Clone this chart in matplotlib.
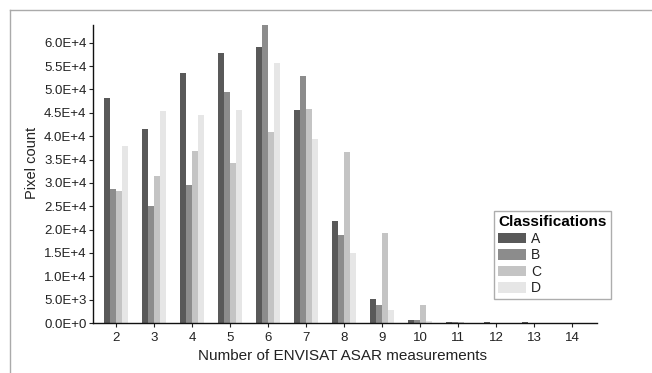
import matplotlib
matplotlib.use("Agg")
import matplotlib.pyplot as plt
from matplotlib.lines import Line2D
from matplotlib.ticker import FuncFormatter, MultipleLocator
import numpy as np

plt.rcParams['font.family'] = ['Liberation Sans', 'DejaVu Sans']

categories = [2, 3, 4, 5, 6, 7, 8, 9, 10, 11, 12, 13, 14]
series_names = ["A", "B", "C", "D"]
A = [48200, 41600, 53600, 57700, 59100, 45500, 21800, 5100, 700, 250, 250, 250, 0]
B = [28600, 25000, 29600, 49400, 63700, 52900, 18900, 3900, 600, 200, 50, 0, 0]
C = [28200, 31400, 36800, 34300, 40900, 45900, 36600, 19300, 3900, 150, 0, 0, 0]
D = [37900, 45400, 44500, 45700, 55700, 39400, 15000, 2700, 350, 100, 0, 0, 0]
colors = ["#595959", "#8c8c8c", "#c4c4c4", "#e6e6e6"]

fig = plt.figure(figsize=(6.52, 3.73), dpi=100)
ax = fig.add_axes([0.1422, 0.134, 0.7734, 0.799])

x = np.array(categories, dtype=float)
w = 0.158
for i, (vals, name, col) in enumerate(zip([A, B, C, D], series_names, colors)):
    ax.bar(x + (i - 1.5) * w, vals, width=w, color=col, label=name, linewidth=0)

ax.set_xlim(1.39, 14.66)
ax.set_ylim(0, 63800)
ax.set_xticks(categories)
ax.yaxis.set_major_locator(MultipleLocator(5000))

def fmt(v, pos):
    if v == 0:
        return "0.0E+0"
    e = int(np.floor(np.log10(abs(v))))
    m = v / 10 ** e
    return f"{m:.1f}E+{e}"

ax.yaxis.set_major_formatter(FuncFormatter(fmt))

for s in ["top", "right"]:
    ax.spines[s].set_visible(False)
for s in ["left", "bottom"]:
    ax.spines[s].set_color("#111111")
    ax.spines[s].set_linewidth(1.0)

ax.tick_params(axis='y', length=3, width=0.8, pad=1.5, labelsize=9.5, colors="#222222")
ax.tick_params(axis='x', length=3, width=0.8, pad=3.5, labelsize=9.5, colors="#222222")

fig.text(0.049, 0.563, "Pixel count", rotation=90, ha="center", va="center",
         fontsize=10.5, color="#222222")
fig.text(0.526, 0.0456, "Number of ENVISAT ASAR measurements", ha="center", va="center",
         fontsize=11, color="#222222")

leg = ax.legend(title="Classifications", loc="upper left",
                bbox_to_anchor=(494 / 652, 1 - 211 / 373), bbox_transform=fig.transFigure,
                frameon=True, fancybox=False, fontsize=10,
                title_fontproperties={'weight': 'bold', 'size': 11},
                handlelength=2.0, handleheight=0.8, handletextpad=0.35,
                labelspacing=0.18, borderpad=0.3, borderaxespad=0,
                alignment="left")
leg.get_frame().set_edgecolor("#999999")
leg.get_frame().set_linewidth(1.0)
for t in leg.get_texts():
    t.set_color("#222222")

# outer frame lines
fig.add_artist(Line2D([10 / 652, 10 / 652], [0, 1 - 10 / 373], transform=fig.transFigure,
                      color="#aaaaaa", linewidth=1.0))
fig.add_artist(Line2D([10 / 652, 1], [1 - 10 / 373, 1 - 10 / 373], transform=fig.transFigure,
                      color="#aaaaaa", linewidth=1.0))

fig.savefig("out.png", dpi=100)
